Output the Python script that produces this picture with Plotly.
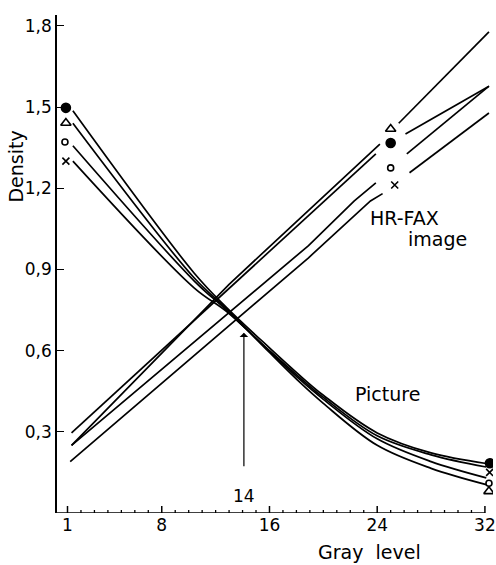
import plotly.graph_objects as go

# ---------------- data ----------------
# HR-FAX image curves (rising), drawn with a gap where the curve labels sit
hr_tri_x = [1.3, 13.0, 24.2, None, 25.6, 32.3]
hr_tri_y = [0.25, 0.845, 1.363, None, 1.44, 1.778]
hr_dot_x = [1.3, 13.0, 23.9, None, 26.1, 32.3]
hr_dot_y = [0.296, 0.83, 1.327, None, 1.40, 1.577]
hr_circ_x = [1.3, 18.9, 22.3, 23.9, None, 26.2, 32.3]
hr_circ_y = [0.25, 0.988, 1.153, 1.22, None, 1.327, 1.577]
hr_x_x = [1.2, 18.9, 23.5, 24.4, None, 26.4, 32.3]
hr_x_y = [0.19, 0.943, 1.153, 1.18, None, 1.257, 1.478]

# Picture curves (falling)
pic_x = [1.4, 10.4, 12.8, 16, 18.1, 20, 24, 28, 32.1]
pic_dot_y = [1.486, 0.887, 0.76, 0.61, 0.515, 0.435, 0.296, 0.222, 0.183]
pic_x_y = [1.30, 0.832, 0.745, 0.60, 0.507, 0.427, 0.285, 0.215, 0.17]
pic_circ_y = [1.357, 0.858, 0.75, 0.597, 0.50, 0.42, 0.274, 0.19, 0.13]
pic_tri_y = [1.44, 0.869, 0.755, 0.593, 0.49, 0.405, 0.25, 0.165, 0.105]

# curve label markers: (x, y) per symbol
lab_left_x = [0.88, 0.88, 0.81, 0.88]
lab_left_y = [1.497, 1.441, 1.371, 1.30]
lab_hr_x = [25.0, 25.0, 25.0, 25.3]
lab_hr_y = [1.367, 1.419, 1.275, 1.212]
lab_right_x = [32.37, 32.3, 32.3, 32.35]
lab_right_y = [0.184, 0.08, 0.11, 0.15]
symbols = ["circle", "triangle-up-open", "circle-open", "x-thin-open"]
sizes = [9, 9, 6, 7]

x_ticks = [1, 8, 16, 24, 32]
x_minor = [v for v in range(1, 33) if v not in x_ticks]
y_ticks = [0.3, 0.6, 0.9, 1.2, 1.5, 1.8]
y_ticktext = ["0,3", "0,6", "0,9", "1,2", "1,5", "1,8"]

FONT = "DejaVu Sans"
LW = 1.7
X_RANGE = [0.22, 32.6]
Y_RANGE = [0, 1.84]
PX_PER_Y = (565 - 15 - 52) / (Y_RANGE[1] - Y_RANGE[0])

fig = go.Figure()

for xs, ys in [(hr_tri_x, hr_tri_y), (hr_dot_x, hr_dot_y),
               (hr_circ_x, hr_circ_y), (hr_x_x, hr_x_y)]:
    fig.add_trace(go.Scatter(x=xs, y=ys, mode="lines",
                             line=dict(color="black", width=LW),
                             connectgaps=False, showlegend=False, hoverinfo="skip"))

for ys in [pic_dot_y, pic_x_y, pic_circ_y, pic_tri_y]:
    fig.add_trace(go.Scatter(x=pic_x, y=ys, mode="lines",
                             line=dict(color="black", width=LW, shape="spline", smoothing=1.0),
                             showlegend=False, hoverinfo="skip"))

for i in range(4):
    fig.add_trace(go.Scatter(
        x=[lab_left_x[i], lab_hr_x[i], lab_right_x[i]],
        y=[lab_left_y[i], lab_hr_y[i], lab_right_y[i]],
        mode="markers",
        marker=dict(symbol=symbols[i], size=sizes[i], color="black",
                    line=dict(color="black", width=1.6)),
        showlegend=False, hoverinfo="skip"))

# x-axis tick marks pointing up into the plot (major and minor)
for vals, length_px, width in [(x_ticks, 7, 1.5), (x_minor, 3, 1.3)]:
    fig.add_trace(go.Scatter(
        x=vals, y=[Y_RANGE[0]] * len(vals), mode="markers",
        marker=dict(size=1, color="black"),
        error_y=dict(type="data", symmetric=False,
                     array=[length_px / PX_PER_Y] * len(vals),
                     arrayminus=[0] * len(vals),
                     width=0, thickness=width, color="black"),
        showlegend=False, hoverinfo="skip"))

font = dict(family=FONT, size=17, color="black")
lfont = dict(family=FONT, size=19, color="black")

annotations = [
    dict(x=26.03, y=1.09, text="HR-FAX", showarrow=False, font=lfont),
    dict(x=28.46, y=1.013, text="image", showarrow=False, font=lfont),
    dict(x=24.78, y=0.44, text="Picture", showarrow=False, font=lfont),
    dict(x=14.1, y=0.064, text="14", showarrow=False, font=font),
    dict(x=14.1, y=0.666, ax=14.1, ay=0.167, axref="x", ayref="y",
         text="", showarrow=True, arrowhead=1, arrowsize=1.2, arrowwidth=1.2,
         arrowcolor="black"),
    dict(xref="x", yref="paper", x=23.45, y=0, yshift=-39, text="Gray  level",
         showarrow=False, font=lfont, yanchor="middle"),
    dict(xref="paper", yref="y", x=0, xshift=-41, y=1.28, text="Density",
         textangle=-90, showarrow=False, font=lfont, xanchor="center"),
]

fig.update_layout(
    width=496, height=565,
    margin=dict(l=57, r=0, t=15, b=52),
    paper_bgcolor="white", plot_bgcolor="white",
    font=font,
    annotations=annotations,
    shapes=[dict(type="line", xref="x", yref="y", x0=X_RANGE[0], x1=32.0, y0=0, y1=0,
                 line=dict(color="black", width=1.6))],
    xaxis=dict(range=X_RANGE, showgrid=False, zeroline=False, showline=False,
               tickmode="array", tickvals=x_ticks, ticks="",
               tickfont=font, ticklabeloverflow="allow"),
    yaxis=dict(range=Y_RANGE, showgrid=False, zeroline=False,
               showline=True, linecolor="black", linewidth=1.6,
               tickmode="array", tickvals=y_ticks, ticktext=y_ticktext,
               ticks="inside", ticklen=7, tickwidth=1.4, tickcolor="black",
               tickfont=font),
)

fig.write_html("out.html")
